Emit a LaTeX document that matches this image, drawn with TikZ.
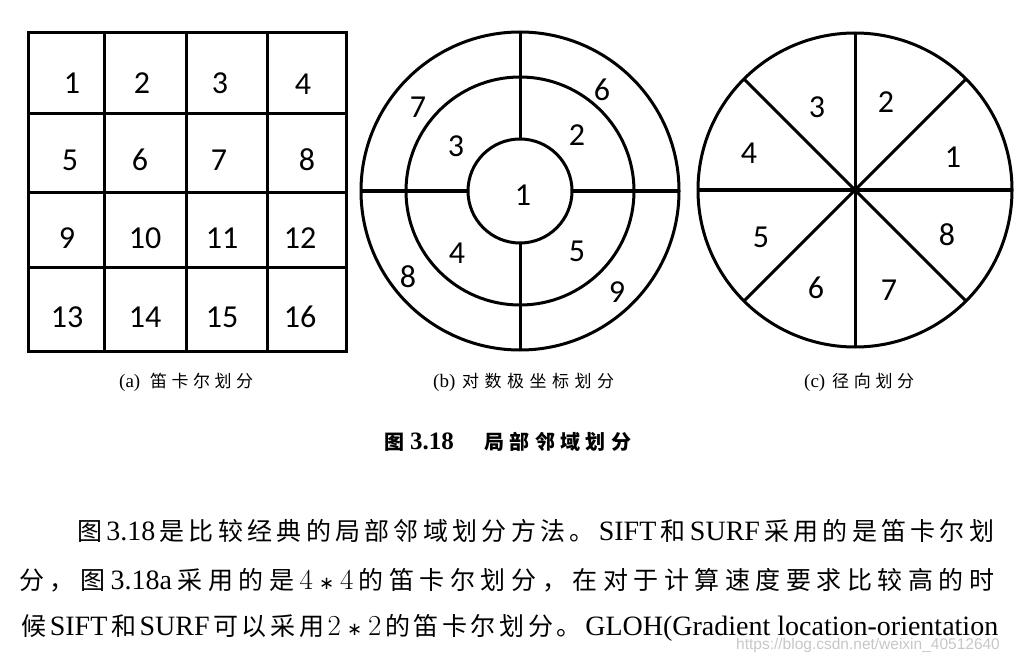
\documentclass[tikz,border=0pt]{standalone}
\usepackage[no-math]{fontspec}
\usetikzlibrary{calc}
\setmainfont{Liberation Serif}
\newfontfamily\cjk{Noto Sans CJK SC}
\newfontfamily\carl{Carlito}
\newfontfamily\wmfont{Liberation Sans}
\newfontfamily\lmr{Latin Modern Roman}
\newfontfamily\dejavu{DejaVu Sans}
\newcommand\lat{\rmfamily\fontsize{28}{30}\selectfont}
\newcommand\caplat{\rmfamily\fontsize{19}{22}\selectfont}
\newcommand\mult[1]{{\lmr\fontsize{29}{30}\selectfont #1\hspace{6pt}{\dejavu\fontsize{18}{20}\selectfont ∗}\hspace{6pt}#1}}
\ExplSyntaxOn
\NewDocumentCommand\spreadline{mm}{\makebox[#1][s]{\tl_map_inline:nn{#2}{{##1}\hfil}\unskip}}
\ExplSyntaxOff
\tikzset{
  ln/.style={line width=3pt, draw=black},
  num/.style={inner sep=0pt, font=\carl\fontsize{32}{34}\selectfont},
  txt/.style={inner sep=0pt, anchor=base west},
  body/.style={txt, font=\cjk\fontsize{25}{28}\selectfont},
}
\begin{document}
\begin{tikzpicture}[x=1pt,y=-1pt]
\useasboundingbox (0,0) rectangle (1019,663);
% ---------- (a) grid ----------
\draw[ln] (28,33) rectangle (346,351);
\foreach \x in {104,186,267} \draw[ln] (\x,33) -- (\x,351);
\foreach \y in {114,192,267} \draw[ln] (28,\y) -- (346,\y);
\node[num] (a1) at (72,83) {1};
\node[num] (a2) at (142,83) {2};
\node[num] (a3) at (220,83) {3};
\node[num] (a4) at (303,84) {4};
\node[num] (a5) at (70,160) {5};
\node[num] (a6) at (140,160) {6};
\node[num] (a7) at (219,160) {7};
\node[num] (a8) at (307,160) {8};
\node[num] (a9) at (67,238) {9};
\node[num] (a10) at (145,238) {10};
\node[num] (a11) at (222,238) {11};
\node[num] (a12) at (300,238) {12};
\node[num] (a13) at (67,317) {13};
\node[num] (a14) at (145,317) {14};
\node[num] (a15) at (222,317) {15};
\node[num] (a16) at (300,317) {16};
% ---------- (b) log-polar ----------
\coordinate (bc) at (520,191);
\draw[ln] (bc) circle[radius=159pt];
\draw[ln] (bc) circle[radius=114pt];
\draw[ln] (bc) circle[radius=52pt];
\draw[ln] (520,139) -- (520,32);
\draw[ln] (520,243) -- (520,350);
\draw[ln] (468,191) -- (361,191);
\draw[ln] (572,191) -- (679,191);
\node[num] (b1) at (523,195) {1};
\node[num] (b2) at (577,135) {2};
\node[num] (b3) at (456,146) {3};
\node[num] (b4) at (457,253) {4};
\node[num] (b5) at (577,251) {5};
\node[num] (b6) at (602,90) {6};
\node[num] (b7) at (418,107) {7};
\node[num] (b8) at (408,277) {8};
\node[num] (b9) at (617,292) {9};
% ---------- (c) radial ----------
\coordinate (cc) at (855,190);
\draw[ln] (cc) circle[radius=157pt];
\foreach \a in {0,45,90,135} {
  \draw[ln] ($(cc)+(\a:157pt)$) -- ($(cc)+(\a+180:157pt)$);
}
\node[num] (c1) at (953,157) {1};
\node[num] (c2) at (886,102) {2};
\node[num] (c3) at (817,107) {3};
\node[num] (c4) at (749,153) {4};
\node[num] (c5) at (761,237) {5};
\node[num] (c6) at (816,288) {6};
\node[num] (c7) at (889,290) {7};
\node[num] (c8) at (947,235) {8};
% ---------- captions ----------
\node[txt] (capa) at (119,387) {\caplat (a)};
\node[txt] (capaz) at (150,387) {\cjk\fontsize{17}{20}\selectfont\spreadline{103pt}{笛卡尔划分}};
\node[txt] (capb) at (433,387) {\caplat (b)};
\node[txt] (capbz) at (462,387) {\cjk\fontsize{17}{20}\selectfont\spreadline{152pt}{对数极坐标划分}};
\node[txt] (capc) at (804,387) {\caplat (c)};
\node[txt] (capcz) at (832,387) {\cjk\fontsize{17}{20}\selectfont\spreadline{82pt}{径向划分}};
% ---------- title ----------
\node[txt] (t1) at (384,449) {\cjk\bfseries\fontsize{20}{24}\selectfont 图};
\node[txt] (t2) at (410,449) {\rmfamily\bfseries\fontsize{25}{28}\selectfont 3.18};
\node[txt] (t3) at (484,449) {\cjk\bfseries\fontsize{20}{24}\selectfont\spreadline{147pt}{局部邻域划分}};
% ---------- body ----------
\node[body] (l1) at (77,540) {\spreadline{917pt}{图{\lat 3.18}是比较经典的局部邻域划分方法。{\lat SIFT}和{\lat SURF}采用的是笛卡尔划}};
\node[body] (l2) at (19,589) {\spreadline{975pt}{分，图{\lat 3.18a}采用的是{\mult{4}}的笛卡尔划分，在对于计算速度要求比较高的时}};
\node[body] (l3) at (21,635) {\spreadline{977pt}{候{\lat SIFT}和{\lat SURF}可以采用{\mult{2}}的笛卡尔划分。{\lat GLOH(Gradient location-orientation}}};
\node[txt, text=black!22] (wm) at (736,649) {\wmfont\fontsize{15.5}{17}\selectfont https://blog.csdn.net/weixin\_40512640};
\end{tikzpicture}
\end{document}
